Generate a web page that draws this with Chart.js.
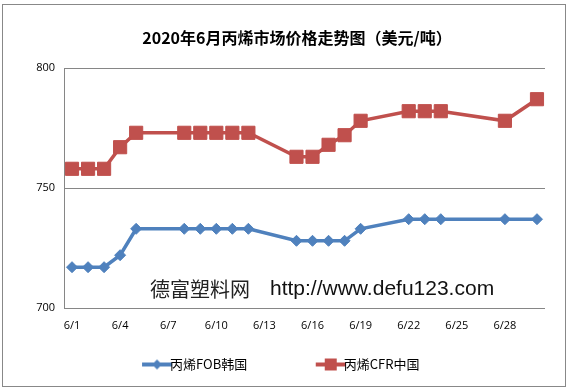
<!DOCTYPE html>
<html>
<head>
<meta charset="utf-8">
<script src="https://cdn.jsdelivr.net/npm/chart.js@4.4.0/dist/chart.umd.min.js"></script>
<style>
  body { margin: 0; background: #fff; }
  #wrap { position: relative; width: 570px; height: 390px; }
  #frame { position: absolute; left: 2px; top: 4px; width: 562px; height: 381px; border: 1px solid #888; pointer-events: none; }
</style>
</head>
<body>
<div id="wrap">
  <canvas id="chart" width="570" height="390"></canvas>
  <div id="frame"></div>
</div>
<script>
// day of June for each price report
const days = [1, 2, 3, 4, 5, 8, 9, 10, 11, 12, 15, 16, 17, 18, 19, 22, 23, 24, 28, 30];
const fobKorea = [717, 717, 717, 722, 733, 733, 733, 733, 733, 733, 728, 728, 728, 728, 733, 737, 737, 737, 737, 737];
const cfrChina = [758, 758, 758, 767, 773, 773, 773, 773, 773, 773, 763, 763, 768, 772, 778, 782, 782, 782, 778, 787];
const seriesNames = ['丙烯FOB韩国', '丙烯CFR中国'];
const titleText = '2020年6月丙烯市场价格走势图（美元/吨）';
const watermark = '德富塑料网';
const watermarkUrl = 'http://www.defu123.com';

const blue = '#4F81BD';
const red = '#C0504D';
const cjk = '"Noto Sans CJK SC", "Noto Sans", sans-serif';

const toPoints = (vals) => vals.map((v, i) => ({ x: days[i], y: v }));

// little line+marker swatch for the legend
function swatch(color, shape) {
    const c = document.createElement('canvas');
    c.width = 32; c.height = 14;
    const g = c.getContext('2d');
    g.strokeStyle = color;
    g.lineWidth = 4;
    g.beginPath(); g.moveTo(1, 7); g.lineTo(31, 7); g.stroke();
    g.fillStyle = color;
    if (shape === 'diamond') {
        g.beginPath(); g.moveTo(16, 2); g.lineTo(21, 7); g.lineTo(16, 12); g.lineTo(11, 7); g.closePath(); g.fill();
    } else {
        g.fillRect(10, 1, 12, 12);
    }
    return c;
}

const extraText = {
    id: 'extraText',
    afterDraw(chart) {
        const ctx = chart.ctx;
        ctx.save();
        ctx.fillStyle = '#000';
        ctx.font = 'bold 16px ' + cjk;
        ctx.textAlign = 'center';
        ctx.textBaseline = 'middle';
        ctx.fillText(titleText, 297, 38);
        ctx.textAlign = 'left';
        ctx.fillStyle = '#222';
        ctx.font = '20px ' + cjk;
        ctx.fillText(watermark, 150, 289);
        ctx.fillStyle = '#111';
        ctx.font = '21px "Liberation Sans", Arial, sans-serif';
        ctx.fillText(watermarkUrl, 270, 289);
        ctx.restore();
    }
};

const ctx = document.querySelector('#chart').getContext('2d');

const myChart = new Chart(ctx, {
    type: 'line',
    data: {
        datasets: [{
            label: seriesNames[0],
            data: toPoints(fobKorea),
            borderColor: blue,
            backgroundColor: blue,
            borderWidth: 3.5,
            pointStyle: 'rectRot',
            pointRadius: 5.5,
            pointBorderWidth: 1,
            tension: 0
        }, {
            label: seriesNames[1],
            data: toPoints(cfrChina),
            borderColor: red,
            backgroundColor: red,
            borderWidth: 3.5,
            pointStyle: 'rect',
            pointRadius: 9.3,
            pointBorderWidth: 1,
            tension: 0
        }]
    },
    options: {
        responsive: false,
        animation: false,
        layout: { padding: { left: 0, right: 0, top: 68, bottom: 9 } },
        scales: {
            x: {
                type: 'linear',
                min: 0.5,
                max: 30.5,
                afterBuildTicks: (scale) => {
                    scale.ticks = [1, 4, 7, 10, 13, 16, 19, 22, 25, 28].map(v => ({ value: v }));
                },
                afterFit: (scale) => { scale.height = 40; },
                grid: { display: false, drawTicks: false },
                border: { display: false },
                ticks: {
                    padding: 11,
                    maxRotation: 0,
                    autoSkip: false,
                    color: '#000',
                    font: { family: '"Open Sans", sans-serif', size: 11 },
                    callback: (v) => '6/' + v
                }
            },
            y: {
                min: 700,
                max: 800,
                afterFit: (scale) => { scale.width = 64; },
                grid: { color: '#868686', lineWidth: 1, drawTicks: false },
                border: { display: true, color: '#868686', width: 1 },
                ticks: {
                    stepSize: 50,
                    padding: 9,
                    color: '#000',
                    font: { family: '"Open Sans", sans-serif', size: 11 }
                }
            },
            spacer: {
                position: 'right',
                display: true,
                afterFit: (scale) => { scale.width = 25; },
                grid: { display: false, drawTicks: false },
                border: { display: false },
                ticks: { display: false }
            }
        },
        plugins: {
            title: { display: false },
            tooltip: { enabled: false },
            legend: {
                position: 'bottom',
                labels: {
                    usePointStyle: true,
                    padding: 10,
                    color: '#000',
                    font: { family: cjk, size: 13 },
                    generateLabels: (chart) => chart.data.datasets.map((ds, i) => ({
                        text: i === 0 ? ds.label + '                       ' : ds.label,
                        pointStyle: swatch(ds.borderColor, i === 0 ? 'diamond' : 'square'),
                        datasetIndex: i,
                        fillStyle: ds.borderColor,
                        strokeStyle: ds.borderColor,
                        lineWidth: 0,
                        fontColor: '#000'
                    }))
                }
            }
        }
    },
    plugins: [extraText]
});
</script>
</body>
</html>
